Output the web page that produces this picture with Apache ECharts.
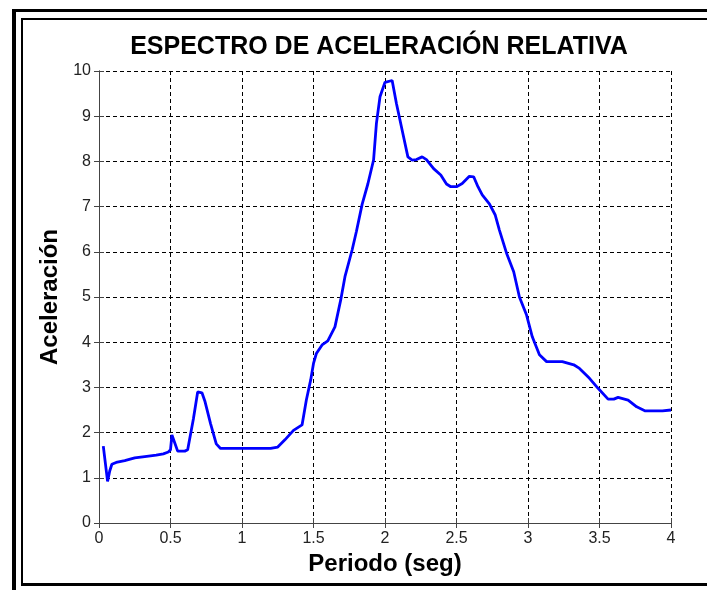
<!DOCTYPE html>
<html>
<head>
<meta charset="utf-8">
<script src="https://cdn.jsdelivr.net/npm/echarts@6/dist/echarts.min.js"></script>
<style>
  html, body { margin: 0; padding: 0; background: #fff; }
  #chart { width: 707px; height: 590px; }
</style>
</head>
<body>
<div id="chart"></div>
<script>
  // valores
  const periodo = [0.03, 0.06, 0.075, 0.09, 0.12, 0.18, 0.25, 0.32, 0.4, 0.45, 0.485, 0.5, 0.51, 0.53, 0.55, 0.6, 0.62, 0.66, 0.69, 0.72, 0.74, 0.78, 0.82, 0.85, 0.9, 1.0, 1.1, 1.2, 1.25, 1.3, 1.36, 1.42, 1.45, 1.48, 1.5, 1.52, 1.56, 1.6, 1.65, 1.69, 1.72, 1.77, 1.8, 1.84, 1.88, 1.92, 1.94, 1.965, 2.0, 2.05, 2.08, 2.12, 2.16, 2.19, 2.22, 2.26, 2.29, 2.34, 2.39, 2.43, 2.46, 2.5, 2.54, 2.59, 2.62, 2.65, 2.68, 2.73, 2.77, 2.8, 2.85, 2.9, 2.94, 2.99, 3.03, 3.08, 3.13, 3.24, 3.32, 3.36, 3.43, 3.49, 3.56, 3.6, 3.63, 3.7, 3.76, 3.82, 3.94, 4.0];
  const aceleracion = [1.70, 0.92, 1.15, 1.30, 1.34, 1.38, 1.44, 1.47, 1.50, 1.53, 1.57, 1.62, 1.95, 1.77, 1.59, 1.59, 1.62, 2.30, 2.90, 2.88, 2.70, 2.20, 1.75, 1.65, 1.65, 1.65, 1.65, 1.65, 1.68, 1.84, 2.05, 2.17, 2.72, 3.16, 3.53, 3.75, 3.94, 4.03, 4.34, 4.93, 5.45, 6.04, 6.45, 7.05, 7.50, 8.03, 8.84, 9.43, 9.75, 9.79, 9.28, 8.69, 8.10, 8.03, 8.04, 8.10, 8.04, 7.84, 7.70, 7.50, 7.44, 7.44, 7.51, 7.67, 7.66, 7.44, 7.26, 7.06, 6.82, 6.48, 5.97, 5.56, 5.00, 4.60, 4.12, 3.72, 3.57, 3.57, 3.50, 3.42, 3.20, 2.98, 2.74, 2.74, 2.78, 2.72, 2.57, 2.48, 2.48, 2.50];

  let chartDom = document.getElementById('chart');
  let myChart = echarts.init(chartDom);

  let tickLabel = { color: '#222', fontSize: 16, fontFamily: 'Liberation Sans, Arial', margin: 8 };
  let nameStyle = { color: '#000', fontSize: 24, fontWeight: 'bold', fontFamily: 'Liberation Sans, Arial' };
  let boxLine = { show: true, lineStyle: { color: '#444', width: 1 } };
  let tick = { show: true, inside: true, length: 5, lineStyle: { color: '#444' } };
  let grid = { show: true, lineStyle: { color: '#000', width: 1, type: [4, 3] } };

  let option = {
    backgroundColor: '#fff',
    animation: false,
    title: {
      text: 'ESPECTRO DE ACELERACIÓN RELATIVA',
      left: 374,
      top: 30,
      textAlign: 'center',
      textStyle: { color: '#000', fontSize: 25, fontWeight: 'bold', fontFamily: 'Liberation Sans, Arial' }
    },
    graphic: [
      // marcos
      { type: 'rect', shape: { x: 12, y: 9, width: 4, height: 581 }, style: { fill: '#000' } },
      { type: 'rect', shape: { x: 12, y: 9, width: 695, height: 3 }, style: { fill: '#000' } },
      { type: 'rect', shape: { x: 21, y: 18, width: 2, height: 568 }, style: { fill: '#000' } },
      { type: 'rect', shape: { x: 21, y: 18, width: 686, height: 2 }, style: { fill: '#000' } },
      { type: 'rect', shape: { x: 21, y: 583, width: 686, height: 3 }, style: { fill: '#000' } }
    ],
    grid: { left: 99, right: 36, top: 71, bottom: 67 },
    xAxis: [
      {
        type: 'value', min: 0, max: 4, interval: 0.5,
        name: 'Periodo (seg)', nameLocation: 'middle', nameGap: 28, nameTextStyle: nameStyle,
        axisLine: boxLine, axisTick: tick, axisLabel: tickLabel, splitLine: grid
      },
      {
        type: 'value', position: 'top', min: 0, max: 4, interval: 0.5,
        axisLine: boxLine, axisTick: tick, axisLabel: { show: false }, splitLine: { show: false }
      }
    ],
    yAxis: [
      {
        type: 'value', min: 0, max: 10, interval: 1,
        name: 'Aceleración', nameLocation: 'middle', nameGap: 31, nameTextStyle: nameStyle,
        axisLine: boxLine, axisTick: tick, axisLabel: tickLabel, splitLine: grid
      },
      {
        type: 'value', position: 'right', min: 0, max: 10, interval: 1,
        axisLine: boxLine, axisTick: tick, axisLabel: { show: false }, splitLine: { show: false }
      }
    ],
    series: [
      {
        type: 'line',
        showSymbol: false,
        lineStyle: { color: '#0000ff', width: 2.8 },
        data: periodo.map((p, i) => [p, aceleracion[i]])
      }
    ]
  };
  option && myChart.setOption(option);
</script>
</body>
</html>
